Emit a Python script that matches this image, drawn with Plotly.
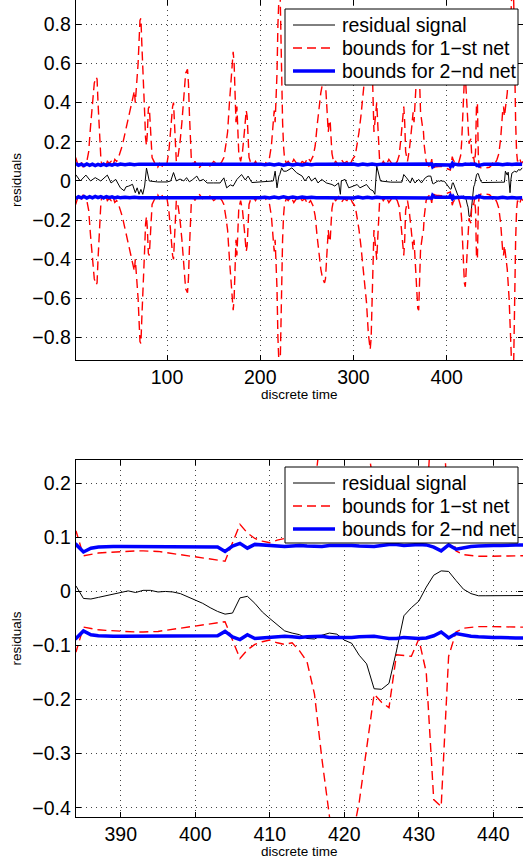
import plotly.graph_objects as go

# residual signal (sparse readings, dense inside the zoomed window 384-444)
t_resid = [2, 7, 13, 18, 23, 29, 36, 40, 45, 50, 54, 56, 59, 63, 66, 68, 70, 72, 74, 76, 78, 81, 90, 100,
           104, 107, 110, 114, 118, 121, 124, 127, 132, 135, 139, 143, 150, 157, 161, 164, 168, 171, 175,
           180, 184, 187, 191, 200, 214, 216, 218, 220, 221, 223, 225, 228, 234, 239, 245, 248, 252, 255,
           259, 262, 266, 271, 277, 280, 284, 286, 287, 291, 295, 300, 304, 307, 311, 314, 318, 321, 323,
           325, 329, 340, 352, 354, 357, 361, 363, 366, 370, 373, 377, 380, 383] + list(range(384, 445)) + \
          [446, 455, 462, 463, 465, 466, 468, 469, 470, 473, 475, 477, 479, 481]
resid = [0.033, 0.000, 0.030, 0.000, 0.017, 0.000, 0.030, -0.010, 0.008, -0.035, -0.050, -0.030, -0.026,
         -0.017, -0.060, -0.035, -0.068, -0.043, -0.068, -0.026, 0.066, 0.000, -0.005, -0.005,
         0.000, 0.043, 0.000, 0.010, 0.000, 0.017, -0.004, 0.005, 0.025, 0.000, 0.008, -0.010, -0.010,
         -0.010, 0.016, -0.035, -0.020, -0.026, 0.008, 0.033, 0.005, 0.025, -0.008, -0.006, 0.000, 0.050,
         -0.035, 0.025, 0.033, 0.067, 0.050, 0.050, 0.067, 0.042, 0.025, 0.000, 0.025, 0.000,
         0.016, -0.010, 0.008, -0.010, -0.018, -0.026, -0.010, -0.068, 0.000, 0.008, -0.035, -0.026,
         -0.018, -0.035, -0.026, -0.018, -0.043, -0.050, -0.068, 0.076, 0.000, -0.006, -0.006, 0.033,
         0.016, -0.010, 0.016, -0.010, 0.008, -0.010, 0.016, 0.025, 0.025,
         # 384 - 444
         0.010, -0.013, -0.014, -0.011, -0.008, -0.004, -0.001, 0.001, -0.002, 0.002,
         0.002, -0.001, 0.000, -0.001, -0.004, -0.010, -0.016, -0.022, -0.030, -0.037,
         -0.042, -0.040, -0.012, -0.009, -0.022, -0.038, -0.050, -0.062, -0.073, -0.077,
         -0.080, -0.087, -0.088, -0.081, -0.077, -0.079, -0.090, -0.096, -0.118, -0.134,
         -0.180, -0.181, -0.170, -0.110, -0.045, -0.030, -0.018, 0.008, 0.030, 0.038,
         0.037, 0.020, 0.004, -0.004, -0.008, -0.008, -0.008, -0.009, -0.009, -0.009, -0.009,
         # after the window
         -0.008, -0.008, -0.006, 0.050, 0.030, 0.045, -0.060, 0.010, 0.040, 0.050, 0.045, 0.058, 0.055, 0.067]

# bounds for the 1st net (symmetric, +/-)
t_net1 = [2, 4, 6, 8, 10, 12, 14, 16, 18, 20, 22, 24, 25, 26, 27, 28, 29, 30, 32, 34, 36, 38, 40, 42, 44, 46,
          48, 52, 56, 60, 63, 65, 66, 67, 69, 71, 72, 73, 74, 75, 76, 77, 78, 79, 80, 81, 82, 83, 84, 86,
          88, 90, 92, 94, 96, 98, 100, 102, 104, 106, 107, 108, 109, 110, 112, 114, 116, 118, 120, 122,
          123, 124, 125, 126, 128, 130, 132, 135, 138, 141, 144, 147, 150, 153, 156, 159, 161,
          163, 165, 167, 169, 171, 172, 173, 174, 175, 176, 177, 179, 181, 183, 185, 186, 187, 188, 190,
          192, 195, 198, 201, 204, 207, 210, 212, 214, 215, 216, 217, 218, 219, 220, 221, 222, 223, 224,
          225, 226, 228, 230, 233, 236, 239, 242, 245, 248, 251, 254, 257, 259, 261, 263, 265, 267, 269,
          270, 271, 272, 273, 274, 275, 276, 277, 279, 281, 284, 287, 290, 293, 296, 299, 302, 304, 306,
          308, 310, 312, 314, 316, 318, 319, 320, 321, 322, 323, 324, 325, 326, 327, 328, 330, 332, 335,
          338, 341, 344, 347, 349, 351, 353, 354, 355, 356, 358, 360, 362, 364, 365, 366, 368, 369, 370,
          371, 372, 374, 375, 376, 378, 380, 382, 383] + list(range(384, 445)) + \
         [446, 448, 450, 452, 454, 456, 458, 460, 461, 462, 463, 465, 467, 469, 470, 471, 472, 473, 474,
          475, 476, 478, 480, 482]
bound_net1 = [0.12, 0.09, 0.08, 0.10, 0.07, 0.09, 0.10, 0.15, 0.28, 0.40, 0.50, 0.53, 0.52, 0.40, 0.28, 0.18,
              0.12, 0.08, 0.09, 0.07, 0.10, 0.09, 0.10, 0.08, 0.11, 0.10,
              0.12, 0.18, 0.27, 0.36, 0.42, 0.46, 0.40, 0.47, 0.60, 0.82, 0.83, 0.70, 0.55, 0.40, 0.35, 0.22,
              0.18, 0.25, 0.37, 0.38, 0.30, 0.18, 0.12, 0.10,
              0.08, 0.07, 0.09, 0.08, 0.07, 0.08, 0.09, 0.15, 0.28, 0.38, 0.40, 0.30, 0.15, 0.10, 0.13, 0.20,
              0.30, 0.42, 0.55, 0.57, 0.50, 0.35, 0.20, 0.12, 0.08, 0.10, 0.08, 0.07, 0.09, 0.08, 0.07, 0.08,
              0.10, 0.09, 0.08, 0.10, 0.12,
              0.18, 0.25, 0.40, 0.55, 0.66, 0.60, 0.45, 0.30, 0.38, 0.25, 0.14, 0.10, 0.15, 0.25, 0.36, 0.33,
              0.20, 0.12, 0.09,
              0.08, 0.10, 0.07, 0.09, 0.08, 0.10, 0.12, 0.18, 0.33, 0.36, 0.30, 0.40, 0.55, 0.80, 1.00, 1.05,
              0.80, 0.50, 0.30, 0.18, 0.12, 0.09, 0.10, 0.08, 0.11, 0.09, 0.08, 0.10, 0.09, 0.12, 0.10, 0.13,
              0.18, 0.28, 0.38, 0.45, 0.50, 0.52, 0.50, 0.40, 0.30, 0.25, 0.30, 0.31, 0.22, 0.14, 0.09,
              0.10, 0.08, 0.11, 0.09, 0.10, 0.08, 0.11, 0.13, 0.18, 0.25, 0.33, 0.43, 0.50, 0.62, 0.78, 0.86,
              0.80, 0.55, 0.35, 0.25, 0.30, 0.38, 0.40, 0.30, 0.18, 0.11, 0.08, 0.10, 0.08, 0.11, 0.09, 0.08,
              0.10, 0.13, 0.22, 0.32, 0.38, 0.30, 0.15, 0.10, 0.16, 0.25, 0.35, 0.30, 0.40, 0.55, 0.65, 0.66,
              0.50, 0.35, 0.28, 0.26, 0.18, 0.10, 0.08, 0.07, 0.09,
              # 384 - 444
              0.112, 0.066, 0.069, 0.071, 0.072, 0.073, 0.074, 0.075, 0.075, 0.075,
              0.075, 0.074, 0.072, 0.070, 0.068, 0.066, 0.064, 0.062, 0.060, 0.058,
              0.056, 0.090, 0.124, 0.108, 0.098, 0.093, 0.090, 0.095, 0.098, 0.095,
              0.110, 0.130, 0.190, 0.310, 0.420, 0.520, 0.540, 0.460, 0.390, 0.285,
              0.190, 0.205, 0.215, 0.117, 0.118, 0.120, 0.088, 0.150, 0.385, 0.398,
              0.120, 0.075, 0.068, 0.066, 0.065, 0.065, 0.065, 0.066, 0.066, 0.066, 0.066,
              # after the window
              0.07, 0.08, 0.10, 0.09, 0.11, 0.14, 0.22, 0.35, 0.38, 0.33, 0.37, 0.45, 0.60, 0.85, 1.00, 1.10,
              0.90, 0.55, 0.30, 0.15, 0.10, 0.12, 0.09, 0.10]

# bounds for the 2nd net (symmetric, +/-)
t_net2 = [2, 5, 8, 11, 14, 17, 20, 23, 26, 29, 32, 35, 38, 41, 44, 47, 50, 55, 60, 65, 70, 75, 80, 90, 100,
          110, 120, 130, 140, 150, 160, 170, 180, 190, 200, 205, 210, 215, 220, 225, 230, 235, 240, 245,
          250, 255, 260, 270, 280, 290, 300, 305, 310, 315, 320, 325, 330, 340, 350, 360, 370, 378,
          383] + list(range(384, 445)) + [450, 455, 460, 465, 470, 475, 481]
bound_net2 = [0.090, 0.080, 0.086, 0.079, 0.087, 0.080, 0.086, 0.079, 0.085, 0.080, 0.086, 0.080, 0.085,
              0.081, 0.086, 0.082, 0.086, 0.083, 0.086, 0.083, 0.086, 0.084, 0.086, 0.085, 0.086,
              0.085, 0.086, 0.085, 0.086, 0.085, 0.086, 0.085, 0.086, 0.085, 0.086, 0.083, 0.087, 0.082,
              0.087, 0.081, 0.087, 0.082, 0.087, 0.082, 0.086, 0.083, 0.086, 0.085, 0.086, 0.085, 0.087,
              0.082, 0.087, 0.083, 0.087, 0.083, 0.086, 0.085, 0.086, 0.085, 0.086, 0.085, 0.086,
              # 384 - 444
              0.087, 0.073, 0.080, 0.082, 0.083, 0.083, 0.083, 0.083, 0.083, 0.083,
              0.083, 0.083, 0.083, 0.083, 0.083, 0.083, 0.083, 0.083, 0.083, 0.082,
              0.074, 0.084, 0.089, 0.080, 0.087, 0.086, 0.084, 0.083, 0.083, 0.084,
              0.085, 0.084, 0.083, 0.083, 0.085, 0.085, 0.086, 0.085, 0.084, 0.083,
              0.083, 0.085, 0.087, 0.087, 0.085, 0.086, 0.087, 0.086, 0.082, 0.075,
              0.086, 0.078, 0.081, 0.083, 0.084, 0.085, 0.085, 0.085, 0.086, 0.086, 0.086,
              # after the window
              0.085, 0.087, 0.083, 0.087, 0.084, 0.087, 0.085]

names = ["residual signal", "bounds for 1\u2212st net", "bounds for 2\u2212nd net"]

W, H = 523, 862
FONT = "Liberation Sans, Arial, Helvetica, sans-serif"
RES_LINE = dict(color="black", width=1)
NET1_LINE = dict(color="#ff0000", width=1.4, dash="9px,5px")
NET2_LINE = dict(color="#0000ff", width=3.5)


def px(x):
    return x / W


def py(y):
    return 1 - y / H


fig = go.Figure()

#%% traces, once per subplot
for xa, ya in [("x", "y"), ("x2", "y2")]:
    fig.add_trace(go.Scatter(x=t_resid, y=resid, mode="lines", name=names[0], line=RES_LINE,
                             xaxis=xa, yaxis=ya, showlegend=False))
    fig.add_trace(go.Scatter(x=t_net1, y=bound_net1, mode="lines", name=names[1], line=NET1_LINE,
                             xaxis=xa, yaxis=ya, showlegend=False))
    fig.add_trace(go.Scatter(x=t_net1, y=[-v for v in bound_net1], mode="lines", name=names[1],
                             line=NET1_LINE, xaxis=xa, yaxis=ya, showlegend=False))
    fig.add_trace(go.Scatter(x=t_net2, y=bound_net2, mode="lines", name=names[2], line=NET2_LINE,
                             xaxis=xa, yaxis=ya, showlegend=False))
    fig.add_trace(go.Scatter(x=t_net2, y=[-v for v in bound_net2], mode="lines", name=names[2],
                             line=NET2_LINE, xaxis=xa, yaxis=ya, showlegend=False))

#%% axes
axis_style = dict(showline=True, linecolor="black", linewidth=1, mirror="ticks",
                  ticks="inside", ticklen=5, tickcolor="black",
                  showgrid=True, gridcolor="#444", gridwidth=1, griddash="1px,4px",
                  zeroline=False, tickfont=dict(family=FONT, size=19.5, color="black"))

fig.update_layout(
    xaxis=dict(domain=[px(75.7), 1], range=[2.06, 481.9], anchor="y",
               tickvals=[100, 200, 300, 400], **axis_style),
    yaxis=dict(domain=[py(360), 1], range=[-0.914, 0.924], anchor="x",
               tickvals=[-0.8, -0.6, -0.4, -0.2, 0, 0.2, 0.4, 0.6, 0.8], **axis_style),
    xaxis2=dict(domain=[px(75.7), 1], range=[383.96, 443.98], anchor="y2",
                tickvals=[390, 400, 410, 420, 430, 440], **axis_style),
    yaxis2=dict(domain=[py(817), py(460)], range=[-0.4172, 0.2431], anchor="x2",
                tickvals=[-0.4, -0.3, -0.2, -0.1, 0, 0.1, 0.2], **axis_style),
)

#%% legend boxes drawn by hand (matlab style, tight rows)
leg_font = dict(family=FONT, size=19.5, color="black")
for top in [9, 467]:
    fig.add_shape(type="rect", xref="paper", yref="paper", x0=px(285), x1=px(518),
                  y0=py(top + 76), y1=py(top), fillcolor="white", line=dict(color="black", width=1))
    for i, (nm, ln) in enumerate(zip(names, [RES_LINE, NET1_LINE, NET2_LINE])):
        yr = top + 16 + 23 * i
        fig.add_shape(type="line", xref="paper", yref="paper", x0=px(293), x1=px(335),
                      y0=py(yr), y1=py(yr), line=ln)
        fig.add_annotation(text=nm, x=px(340), y=py(yr), xref="paper", yref="paper",
                           showarrow=False, font=leg_font, xanchor="left", yanchor="middle")

# axis titles
lab = dict(family=FONT, size=13.5, color="black")
for yc, xc in [(180, 394), (638.5, 851)]:
    fig.add_annotation(text="residuals", x=px(16), y=py(yc), xref="paper", yref="paper",
                       showarrow=False, textangle=-90, font=lab, xanchor="center", yanchor="middle")
    fig.add_annotation(text="discrete time", x=px(299.3), y=py(xc), xref="paper", yref="paper",
                       showarrow=False, font=lab, xanchor="center", yanchor="middle")

fig.update_layout(width=W, height=H, autosize=False, template="none",
                  margin=dict(l=0, r=0, t=0, b=0),
                  paper_bgcolor="white", plot_bgcolor="white")

# page body has an 8px default margin, drop it so the figure sits at 0,0
fig.write_html("out.html", config={"displayModeBar": False},
               post_script="document.body.style.margin='0px';")
